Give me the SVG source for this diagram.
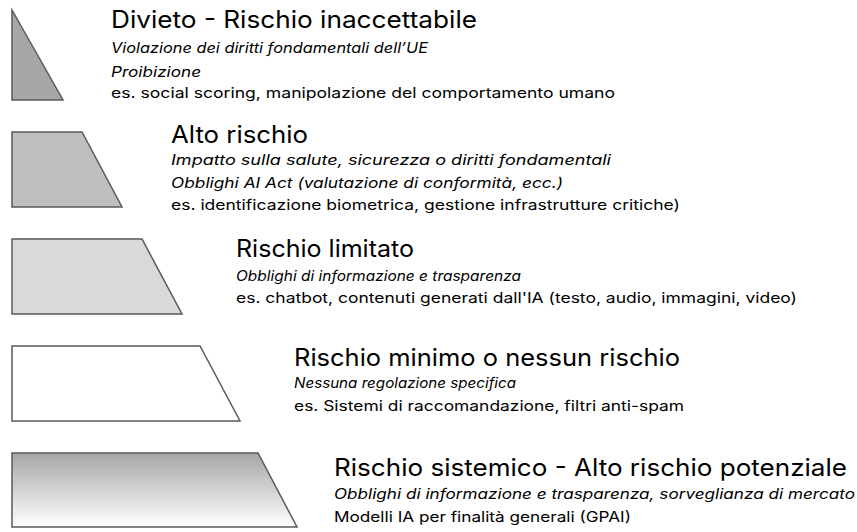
<svg xmlns="http://www.w3.org/2000/svg" width="857" height="532" viewBox="0 0 857 532">
<defs>
<linearGradient id="g5" x1="0" y1="0" x2="0" y2="1">
<stop offset="0" stop-color="#a6a6a6"/>
<stop offset="1" stop-color="#ffffff"/>
</linearGradient>
<style>
.shape{stroke:#5a5a5a;stroke-width:1.5;stroke-linejoin:miter}
.t{font-family:Inter,"Liberation Sans",Arial,sans-serif;font-size:24px;fill:#000}
.i{font-family:Inter,"Liberation Sans",Arial,sans-serif;font-size:14.5px;font-style:italic;fill:#000}
.n{font-family:Inter,"Liberation Sans",Arial,sans-serif;font-size:14.5px;fill:#000}
</style>
</defs>
<rect width="857" height="532" fill="#ffffff"/>
<g id="divieto">
<polygon class="shape" points="12,10 63,100 12,100" fill="#a6a6a6"/>
<text class="t" x="111" y="28" textLength="366" lengthAdjust="spacingAndGlyphs">Divieto - Rischio inaccettabile</text>
<text class="i" x="111" y="53" textLength="317" lengthAdjust="spacingAndGlyphs">Violazione dei diritti fondamentali dell’UE</text>
<text class="i" x="111" y="77" textLength="90" lengthAdjust="spacingAndGlyphs">Proibizione</text>
<text class="n" x="111" y="98" textLength="504" lengthAdjust="spacingAndGlyphs">es. social scoring, manipolazione del comportamento umano</text>
</g>
<g id="alto">
<polygon class="shape" points="12,132 82,132 122,207 12,207" fill="#bfbfbf"/>
<text class="t" x="171" y="143" textLength="137" lengthAdjust="spacingAndGlyphs">Alto rischio</text>
<text class="i" x="171" y="165" textLength="440" lengthAdjust="spacingAndGlyphs">Impatto sulla salute, sicurezza o diritti fondamentali</text>
<text class="i" x="171" y="188" textLength="392" lengthAdjust="spacingAndGlyphs">Obblighi AI Act (valutazione di conformità, ecc.)</text>
<text class="n" x="171" y="210" textLength="509" lengthAdjust="spacingAndGlyphs">es. identificazione biometrica, gestione infrastrutture critiche)</text>
</g>
<g id="limitato">
<polygon class="shape" points="12,239 142,239 182,314 12,314" fill="#d9d9d9"/>
<text class="t" x="236" y="257" textLength="178" lengthAdjust="spacingAndGlyphs">Rischio limitato</text>
<text class="i" x="236" y="281" textLength="285" lengthAdjust="spacingAndGlyphs">Obblighi di informazione e trasparenza</text>
<text class="n" x="236" y="303" textLength="561" lengthAdjust="spacingAndGlyphs">es. chatbot, contenuti generati dall'IA (testo, audio, immagini, video)</text>
</g>
<g id="minimo">
<polygon class="shape" points="12,346 200,346 240,421 12,421" fill="#ffffff"/>
<text class="t" x="294" y="366" textLength="386" lengthAdjust="spacingAndGlyphs">Rischio minimo o nessun rischio</text>
<text class="i" x="294" y="388" textLength="222" lengthAdjust="spacingAndGlyphs">Nessuna regolazione specifica</text>
<text class="n" x="294" y="411" textLength="390" lengthAdjust="spacingAndGlyphs">es. Sistemi di raccomandazione, filtri anti-spam</text>
</g>
<g id="sistemico">
<polygon class="shape" points="12,453 258,453 297,527 12,527" fill="url(#g5)"/>
<text class="t" x="334" y="476" textLength="513" lengthAdjust="spacingAndGlyphs">Rischio sistemico - Alto rischio potenziale</text>
<text class="i" x="334" y="499" textLength="521" lengthAdjust="spacingAndGlyphs">Obblighi di informazione e trasparenza, sorveglianza di mercato</text>
<text class="n" x="334" y="522" textLength="297" lengthAdjust="spacingAndGlyphs">Modelli IA per finalità generali (GPAI)</text>
</g>
<g id="connectors"></g>
</svg>
